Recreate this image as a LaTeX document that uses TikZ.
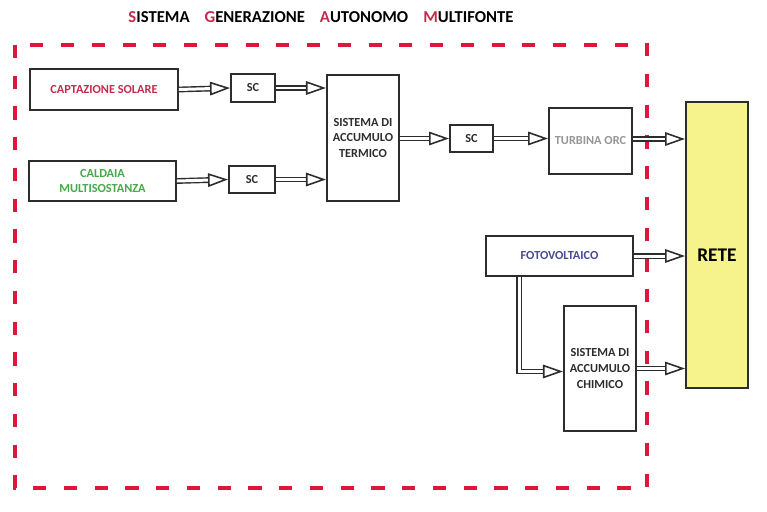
\documentclass[tikz,border=0pt]{standalone}
\usepackage{fontspec}
\setmainfont{Carlito}
\usetikzlibrary{arrows.meta,calc}
\definecolor{frame}{RGB}{222,22,58}
\definecolor{crimson}{RGB}{196,44,76}
\definecolor{grass}{RGB}{70,168,72}
\definecolor{slate}{RGB}{150,150,150}
\definecolor{indigo}{RGB}{74,72,150}
\definecolor{lemon}{RGB}{246,242,140}
\definecolor{ink}{RGB}{45,45,45}
\tikzset{
  box/.style={draw=ink,line width=1.1pt,fill=white,align=center,
    font=\fontsize{7}{9}\selectfont\bfseries,text=#1},
  box/.default=ink,
  flow/.style={draw=ink,line width=0.8pt,double,double distance=1.7pt,
    -{Triangle[open,length=4mm,width=2.7mm,line width=0.9pt]}},
  tag/.style={font=\fontsize{10}{12}\selectfont\bfseries},
}
\newcommand{\ini}[1]{{\color{crimson}#1}}
\begin{document}
\begin{tikzpicture}[x=0.02cm,y=-0.02cm]
  \useasboundingbox (0,0) rectangle (767,511);
  % title
  \node[tag,font=\fontsize{9.5}{11}\selectfont\bfseries] (title) at (321,17)
    {\ini{S}ISTEMA\hspace{0.9em}\ini{G}ENERAZIONE\hspace{0.9em}\ini{A}UTONOMO\hspace{0.9em}\ini{M}ULTIFONTE};
  % boundary
  \draw[frame,line width=2pt,dash pattern=on 7.5pt off 10pt] (15,45) rectangle (647,488);
  % thermal branch
  \node[box=crimson,minimum width=2.96cm,minimum height=0.82cm] (cs) at (104,89.5) {CAPTAZIONE SOLARE};
  \node[box=grass,minimum width=2.94cm,minimum height=0.80cm] (cm) at (102.5,181) {CALDAIA\\MULTISOSTANZA};
  \node[box,minimum width=0.88cm,minimum height=0.56cm] (sc1) at (253,88) {SC};
  \node[box,minimum width=0.92cm,minimum height=0.54cm] (sc2) at (252,179.5) {SC};
  \node[box,minimum width=1.28cm,minimum height=2.52cm] (sat) at (363,138) {SISTEMA DI\\ACCUMULO\\TERMICO};
  \node[box,minimum width=0.86cm,minimum height=0.54cm] (sc3) at (471.5,138.5) {SC};
  \node[box=slate,minimum width=1.66cm,minimum height=1.32cm] (orc) at (590.5,141) {TURBINA ORC};
  % electric branch
  \node[box=indigo,minimum width=2.94cm,minimum height=0.80cm] (fv) at (559.5,256) {FOTOVOLTAICO};
  \node[box,minimum width=1.32cm,minimum height=2.50cm] (sac) at (600,368.5) {SISTEMA DI\\ACCUMULO\\CHIMICO};
  \node[draw=ink,line width=1.1pt,fill=lemon,minimum width=1.24cm,minimum height=5.72cm] (rete) at (717,245) {};
  \node[tag,font=\fontsize{11}{13}\selectfont\bfseries] (retetxt) at (717,255) {RETE};
  % connections
  \draw[flow] (cs.east) -- (sc1.west);
  \draw[flow] (sc1.east) -- (sc1.east -| sat.west);
  \draw[flow] (cm.east) -- (sc2.west);
  \draw[flow] (sc2.east) -- (sc2.east -| sat.west);
  \draw[flow] (sat.east |- sc3.west) -- (sc3.west);
  \draw[flow] (sc3.east) -- (sc3.east -| orc.west);
  \draw[flow] ([yshift=0.04cm]orc.east) -- ([yshift=0.04cm]orc.east -| rete.west);
  \draw[flow] (fv.east) -- (fv.east -| rete.west);
  \draw[flow] ([xshift=0.68cm]fv.south west) |- ([yshift=-0.06cm]sac.west);
  \draw[flow] (sac.east) -- (sac.east -| rete.west);
\end{tikzpicture}
\end{document}
